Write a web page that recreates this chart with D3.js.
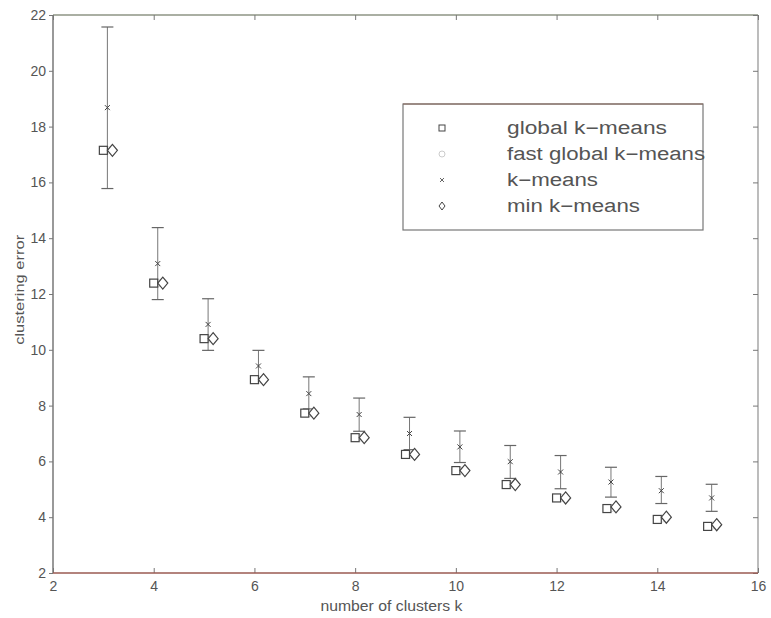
<!DOCTYPE html>
<html><head><meta charset="utf-8">
<script src="https://cdn.jsdelivr.net/npm/d3@7"></script>
<style>body{margin:0;background:#fff}svg{display:block}text{font-family:"Liberation Sans",Arial,sans-serif}</style>
</head><body><svg id="c" width="771" height="618"></svg>
<script>
const ks = [3,4,5,6,7,8,9,10,11,12,13,14,15];
const globalKM = [17.15,12.39,10.40,8.93,7.73,6.85,6.25,5.67,5.17,4.69,4.31,3.92,3.67];
const fastGlobalKM = [17.15,12.39,10.40,8.93,7.73,6.85,6.25,5.67,5.17,4.69,4.33,3.95,3.70];
const kMeansMean = [18.68,13.09,10.91,9.42,8.43,7.68,7.00,6.52,5.99,5.62,5.26,4.95,4.69];
const kMeansHigh = [21.57,14.38,11.83,9.98,9.03,8.27,7.58,7.09,6.57,6.21,5.79,5.46,5.18];
const kMeansLow = [15.78,11.80,9.98,8.98,7.88,7.08,6.42,5.96,5.39,5.02,4.72,4.49,4.21];
const minKM = [17.15,12.39,10.40,8.93,7.73,6.85,6.25,5.67,5.17,4.69,4.37,4.00,3.73];
const xTicks = [2,4,6,8,10,12,14,16];
const yTicks = [2,4,6,8,10,12,14,16,18,20,22];
const legendLabels = ["global k\u2212means","fast global k\u2212means","k\u2212means","min k\u2212means"];

const svg = d3.select("#c");
const L=53,R=758,T=15,B=573;
const x = d3.scaleLinear().domain([2,16]).range([L,R]);
const y = d3.scaleLinear().domain([2,22]).range([B,T]);
const axisCol="#777", txtCol="#555";

// frame lines
svg.append("line").attr("x1",L).attr("x2",R).attr("y1",T).attr("y2",T).attr("stroke","#8e9484").attr("stroke-width",1.5);
svg.append("line").attr("x1",R).attr("x2",R).attr("y1",T).attr("y2",B).attr("stroke","#999").attr("stroke-width",1.3);

// axes
const gx = svg.append("g").attr("transform",`translate(0,${B})`)
  .call(d3.axisBottom(x).tickValues(xTicks).tickSize(-5).tickPadding(8).tickFormat(d3.format("d")));
const gy = svg.append("g").attr("transform",`translate(${L},0)`)
  .call(d3.axisLeft(y).tickValues(yTicks).tickSize(4).tickPadding(3).tickFormat(d3.format("d")));
const gt = svg.append("g").attr("transform",`translate(0,${T})`)
  .call(d3.axisTop(x).tickValues(xTicks).tickSize(-5).tickFormat(""));
const gr = svg.append("g").attr("transform",`translate(${R},0)`)
  .call(d3.axisRight(y).tickValues(yTicks).tickSize(-5).tickFormat(""));
[gx,gy,gt,gr].forEach(g=>{
  g.selectAll(".domain").remove();
  g.selectAll(".tick line").attr("stroke",axisCol);
  g.selectAll(".tick text").attr("fill",txtCol).style("font-size","14px");
});
svg.append("line").attr("x1",L).attr("x2",L).attr("y1",T).attr("y2",B).attr("stroke",axisCol).attr("stroke-width",1.5);
svg.append("line").attr("x1",L).attr("x2",R).attr("y1",B).attr("y2",B).attr("stroke","#9a5a52").attr("stroke-width",1.5);

// axis labels
svg.append("text").attr("x",x(8.72)).attr("y",611).attr("text-anchor","middle").attr("fill",txtCol).style("font-size","14px")
  .attr("textLength",142).attr("lengthAdjust","spacingAndGlyphs").text("number of clusters k");
svg.append("text").attr("transform",`translate(24,${y(12.15)}) rotate(-90)`).attr("text-anchor","middle").attr("fill",txtCol).style("font-size","13px")
  .attr("textLength",110).attr("lengthAdjust","spacingAndGlyphs").text("clustering error");

const mark="#444";
const g = svg.append("g");
const ebx = k=>x(k+0.08);
ks.forEach((k,i)=>{
  const cx=ebx(k);
  g.append("line").attr("x1",cx).attr("x2",cx).attr("y1",y(kMeansLow[i])).attr("y2",y(kMeansHigh[i])).attr("stroke","#777").attr("stroke-width",1);
  [kMeansLow[i],kMeansHigh[i]].forEach(v=>g.append("line").attr("x1",cx-6).attr("x2",cx+6).attr("y1",y(v)).attr("y2",y(v)).attr("stroke","#666").attr("stroke-width",1.2));
  const my=y(kMeansMean[i]);
  g.append("path").attr("d",`M${cx-2.5},${my-2.5}L${cx+2.5},${my+2.5}M${cx-2.5},${my+2.5}L${cx+2.5},${my-2.5}`).attr("stroke",mark).attr("stroke-width",1);
  g.append("circle").attr("cx",x(k+0.1)).attr("cy",y(fastGlobalKM[i])).attr("r",3.5).attr("fill","none").attr("stroke","#ccc").attr("stroke-width",0.8);
  const sx=x(k), sy=y(globalKM[i]);
  g.append("rect").attr("x",sx-4).attr("y",sy-4).attr("width",8).attr("height",8).attr("fill","#fff").attr("stroke",mark).attr("stroke-width",1.2);
  const dx=x(k+0.18), dy=y(minKM[i]);
  g.append("path").attr("d",`M${dx},${dy-6}L${dx+5},${dy}L${dx},${dy+6}L${dx-5},${dy}Z`).attr("fill","#fff").attr("stroke",mark).attr("stroke-width",1.2);
});

// legend
const lg = svg.append("g");
lg.append("rect").attr("x",403).attr("y",104).attr("width",300).attr("height",126).attr("fill","#fff").attr("stroke","#777").attr("stroke-width",1.2);
lg.append("line").attr("x1",403).attr("x2",703).attr("y1",104).attr("y2",104).attr("stroke","#8a6a5e").attr("stroke-width",1.2);
const rowsY=[128,154,180,206];
const legendWidths=[160,198,91,133];
const lx=442;
legendLabels.forEach((t,i)=>{
  const yy=rowsY[i];
  lg.append("text").attr("x",507).attr("y",yy+6).attr("fill",txtCol).style("font-size","18px")
    .attr("textLength",legendWidths[i]).attr("lengthAdjust","spacingAndGlyphs").text(t);
});
lg.append("rect").attr("x",lx-3).attr("y",rowsY[0]-3).attr("width",6).attr("height",6).attr("fill","none").attr("stroke",mark).attr("stroke-width",1);
lg.append("circle").attr("cx",lx).attr("cy",rowsY[1]).attr("r",3).attr("fill","none").attr("stroke","#ccc").attr("stroke-width",1);
lg.append("path").attr("d",`M${lx-2},${rowsY[2]-2}L${lx+2},${rowsY[2]+2}M${lx-2},${rowsY[2]+2}L${lx+2},${rowsY[2]-2}`).attr("stroke","#666").attr("stroke-width",1);
lg.append("path").attr("d",`M${lx},${rowsY[3]-4}L${lx+3},${rowsY[3]}L${lx},${rowsY[3]+4}L${lx-3},${rowsY[3]}Z`).attr("fill","none").attr("stroke",mark).attr("stroke-width",1);
</script></body></html>
